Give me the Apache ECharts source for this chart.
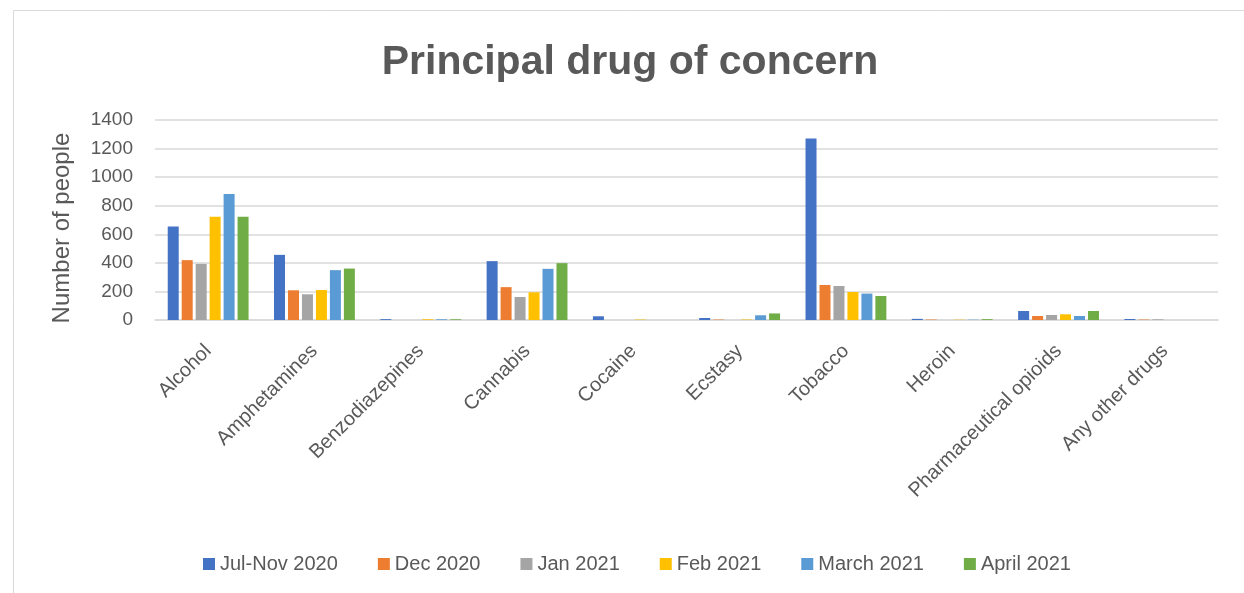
<!DOCTYPE html>
<html>
<head>
<meta charset="utf-8">
<script src="https://cdn.jsdelivr.net/npm/echarts@6/dist/echarts.min.js"></script>
<style>
html,body{margin:0;padding:0;background:#fff;}
#chart{width:1244px;height:593px;}
</style>
</head>
<body>
<div id="chart"></div>
<script>
const categories = ["Alcohol","Amphetamines","Benzodiazepines","Cannabis","Cocaine","Ecstasy","Tobacco","Heroin","Pharmaceutical opioids","Any other drugs"];
const seriesNames = ["Jul-Nov 2020","Dec 2020","Jan 2021","Feb 2021","March 2021","April 2021"];
const julNov2020 = [655, 456, 6, 412, 26, 14, 1271, 8, 63, 7];
const dec2020    = [419, 208, 0, 230, 0, 3, 245, 3, 28, 3];
const jan2021    = [393, 180, 0, 161, 0, 0, 238, 0, 35, 5];
const feb2021    = [723, 210, 5, 194, 3, 3, 196, 2, 40, 0];
const mar2021    = [882, 349, 5, 358, 0, 33, 185, 2, 28, 0];
const apr2021    = [723, 360, 5, 398, 0, 46, 168, 6, 63, 0];
const yTicks = [0, 200, 400, 600, 800, 1000, 1200, 1400];
const yTitle = 'Number of people';
const colors = ["#4472C4","#ED7D31","#A5A5A5","#FFC000","#5B9BD5","#70AD47"];

const allData = [julNov2020, dec2020, jan2021, feb2021, mar2021, apr2021];
const font = "'Liberation Sans', 'DejaVu Sans', sans-serif";
const chart = echarts.init(document.getElementById('chart'));
chart.setOption({
  animation: false,
  backgroundColor: '#fff',
  color: colors,
  graphic: [{
    type: 'rect', left: 11, top: 8,
    shape: {width: 1240, height: 600},
    style: {fill: 'none', stroke: '#d9d9d9', lineWidth: 1}
  }, {
    type: 'text', x: 62, y: 228, rotation: Math.PI / 2,
    style: {text: yTitle, font: "24px 'Liberation Sans', sans-serif", fill: '#595959',
      textAlign: 'center', textVerticalAlign: 'middle'}
  }],
  title: {
    text: 'Principal drug of concern',
    left: 625, top: 37, textAlign: 'center',
    textStyle: {fontFamily: font, fontSize: 41, fontWeight: 'bold', color: '#595959'}
  },
  legend: {
    data: seriesNames,
    left: 198, top: 549,
    itemWidth: 12, itemHeight: 12, itemGap: 40,
    icon: 'rect',
    textStyle: {fontFamily: font, fontSize: 20, color: '#595959'}
  },
  grid: {left: 155, right: 26, top: 120, bottom: 273},
  xAxis: {
    type: 'category', data: categories,
    axisTick: {show: false},
    axisLine: {lineStyle: {color: '#d9d9d9', width: 1.5}},
    axisLabel: {rotate: 45, interval: 0, fontFamily: font, fontSize: 20, color: '#595959', margin: 28}
  },
  yAxis: {
    type: 'value', min: 0, max: 1400, interval: 200,
    axisLabel: {fontFamily: font, fontSize: 19, color: '#595959', margin: 22,
      formatter: v => yTicks.includes(v) ? String(v) : ''},
    splitLine: {lineStyle: {color: '#d9d9d9', width: 1.5}},
    axisLine: {show: false}, axisTick: {show: false}
  },
  series: seriesNames.map((n, i) => ({
    name: n, type: 'bar', data: allData[i],
    barWidth: 11, barGap: '27%',
    itemStyle: {color: colors[i]}
  }))
});
</script>
</body>
</html>
